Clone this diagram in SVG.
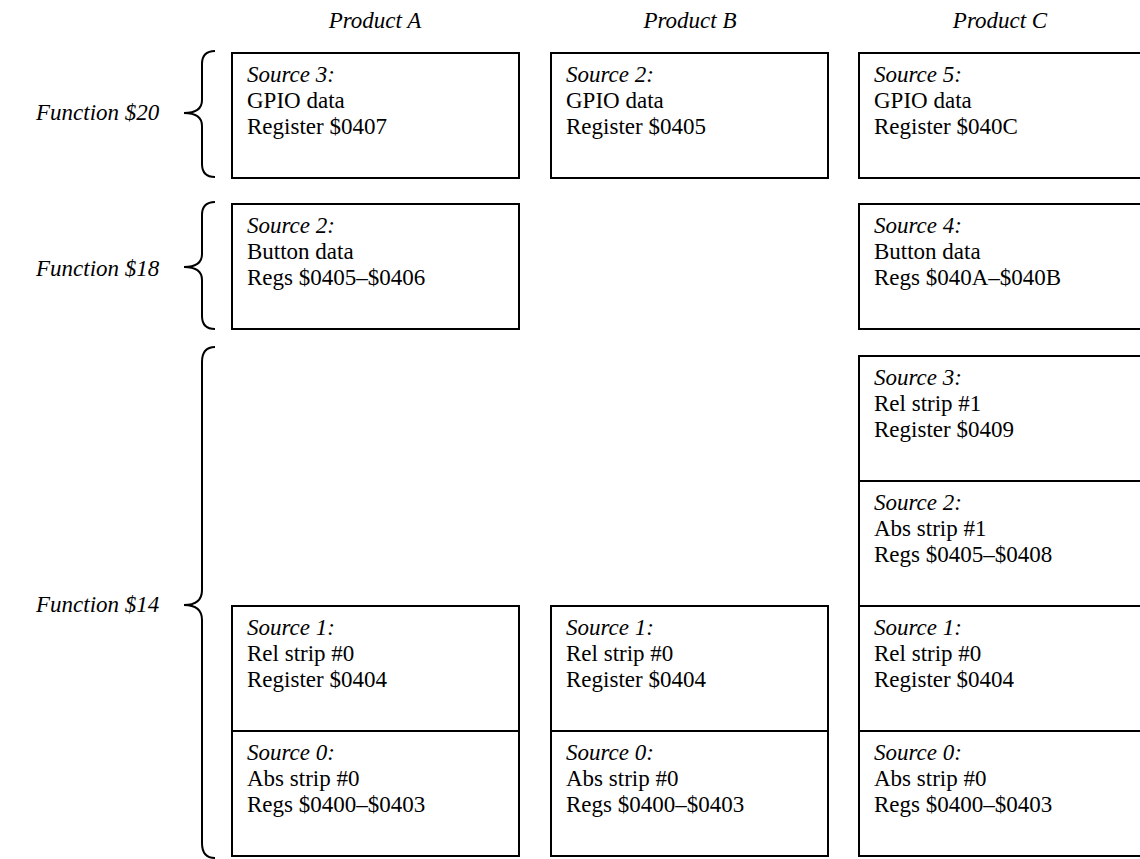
<svg xmlns="http://www.w3.org/2000/svg" width="1140" height="859" viewBox="0 0 1140 859">
<style>
.box{fill:#fff;stroke:#000;stroke-width:2}
.brace{fill:none;stroke:#000;stroke-width:2}
text{font-family:"Liberation Serif","Times New Roman",serif;font-size:23px;fill:#000}
.i{font-style:italic}
.m{text-anchor:middle}
</style>
<rect width="1140" height="859" fill="#fff"/>
<g id="headers">
<text class="i m" x="375" y="28">Product A</text>
<text class="i m" x="690" y="28">Product B</text>
<text class="i m" x="1000" y="28">Product C</text>
<text class="i" x="36" y="120">Function $20</text>
<text class="i" x="36" y="276">Function $18</text>
<text class="i" x="36" y="612">Function $14</text>
</g>
<g id="connectors">
<path class="brace" d="M215,51 Q202,51 202,64 L202,100 Q202,113 184,113 Q202,113 202,126 L202,164 Q202,177 215,177"/>
<path class="brace" d="M215,202 Q202,202 202,215 L202,254 Q202,267 184,267 Q202,267 202,280 L202,316 Q202,329 215,329"/>
<path class="brace" d="M215,347 Q202,347 202,362 L202,590 Q202,605 184,605 Q202,605 202,620 L202,843 Q202,858 215,858"/>
</g>
<g id="A-f20"><rect class="box" x="232" y="53" width="287" height="125"/><text class="i" x="247" y="82">Source 3:</text><text x="247" y="108">GPIO data</text><text x="247" y="134">Register $0407</text></g>
<g id="B-f20"><rect class="box" x="551" y="53" width="277" height="125"/><text class="i" x="566" y="82">Source 2:</text><text x="566" y="108">GPIO data</text><text x="566" y="134">Register $0405</text></g>
<g id="C-f20"><rect class="box" x="859" y="53" width="283" height="125"/><text class="i" x="874" y="82">Source 5:</text><text x="874" y="108">GPIO data</text><text x="874" y="134">Register $040C</text></g>
<g id="A-f18"><rect class="box" x="232" y="204" width="287" height="125"/><text class="i" x="247" y="233">Source 2:</text><text x="247" y="259">Button data</text><text x="247" y="285">Regs $0405–$0406</text></g>
<g id="C-f18"><rect class="box" x="859" y="204" width="283" height="125"/><text class="i" x="874" y="233">Source 4:</text><text x="874" y="259">Button data</text><text x="874" y="285">Regs $040A–$040B</text></g>
<g id="C-s3"><rect class="box" x="859" y="356" width="283" height="125"/><text class="i" x="874" y="385">Source 3:</text><text x="874" y="411">Rel strip #1</text><text x="874" y="437">Register $0409</text></g>
<g id="C-s2"><rect class="box" x="859" y="481" width="283" height="125"/><text class="i" x="874" y="510">Source 2:</text><text x="874" y="536">Abs strip #1</text><text x="874" y="562">Regs $0405–$0408</text></g>
<g id="A-s1"><rect class="box" x="232" y="606" width="287" height="125"/><text class="i" x="247" y="635">Source 1:</text><text x="247" y="661">Rel strip #0</text><text x="247" y="687">Register $0404</text></g>
<g id="B-s1"><rect class="box" x="551" y="606" width="277" height="125"/><text class="i" x="566" y="635">Source 1:</text><text x="566" y="661">Rel strip #0</text><text x="566" y="687">Register $0404</text></g>
<g id="C-s1"><rect class="box" x="859" y="606" width="283" height="125"/><text class="i" x="874" y="635">Source 1:</text><text x="874" y="661">Rel strip #0</text><text x="874" y="687">Register $0404</text></g>
<g id="A-s0"><rect class="box" x="232" y="731" width="287" height="125"/><text class="i" x="247" y="760">Source 0:</text><text x="247" y="786">Abs strip #0</text><text x="247" y="812">Regs $0400–$0403</text></g>
<g id="B-s0"><rect class="box" x="551" y="731" width="277" height="125"/><text class="i" x="566" y="760">Source 0:</text><text x="566" y="786">Abs strip #0</text><text x="566" y="812">Regs $0400–$0403</text></g>
<g id="C-s0"><rect class="box" x="859" y="731" width="283" height="125"/><text class="i" x="874" y="760">Source 0:</text><text x="874" y="786">Abs strip #0</text><text x="874" y="812">Regs $0400–$0403</text></g>
</svg>
